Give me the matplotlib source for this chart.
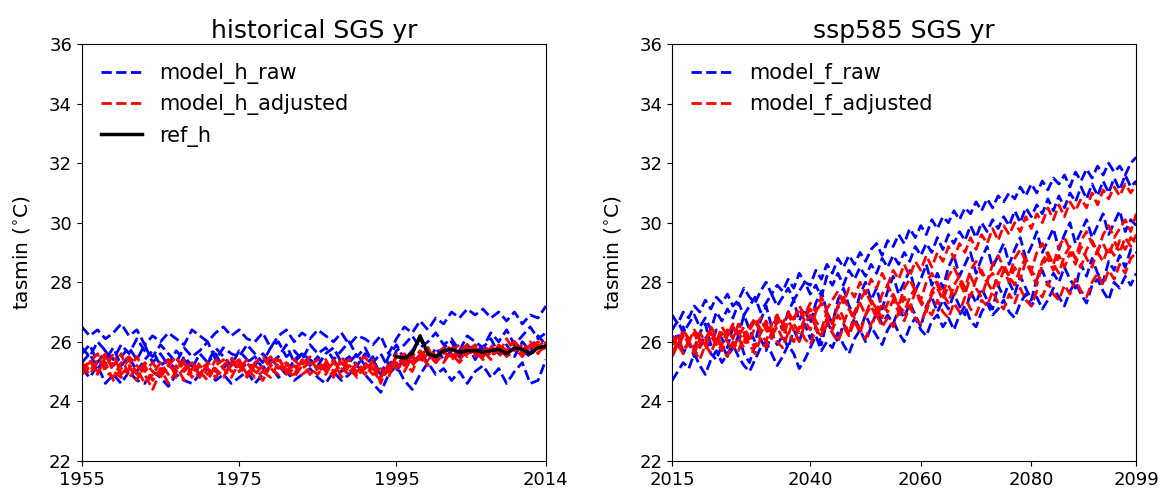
import numpy as np
import matplotlib
matplotlib.use("Agg")
import matplotlib.pyplot as plt

# historical years and series (tasmin, degC)
years_h = np.arange(1955, 2015)
years_f = np.arange(2015, 2100)
years_ref = np.arange(1995, 2015)

ref_h = [25.5, 25.45, 25.6, 26.2, 25.6, 25.5, 25.7, 25.75, 25.65, 25.7,
         25.7, 25.65, 25.7, 25.75, 25.6, 25.8, 25.75, 25.6, 25.8, 25.85]

raw_h1 = [26.5, 26.2, 26.4, 26.1, 26.3, 26.6, 26.2, 26.4, 25.9, 26.2,
          26.0, 26.3, 26.1, 25.9, 26.4, 26.2, 26.0, 26.3, 26.5, 26.2,
          26.4, 26.1, 26.0, 26.3, 25.8, 26.2, 26.4, 26.0, 26.3, 26.1,
          26.4, 26.2, 26.0, 26.3, 25.9, 26.2, 26.1, 25.9, 26.2, 25.6,
          26.1, 26.5, 26.3, 26.7, 26.4, 26.8, 26.6, 27.0, 26.8, 27.1,
          26.9, 27.1, 26.8, 27.0, 26.7, 27.0, 26.6, 26.9, 26.8, 27.2]
raw_h2 = [25.1, 24.8, 25.2, 24.6, 24.9, 24.6, 25.0, 24.7, 24.6, 25.0,
          24.8, 24.5, 24.9, 24.7, 24.6, 24.9, 25.1, 24.7, 24.9, 24.6,
          24.8, 25.0, 24.6, 24.9, 25.2, 24.8, 25.0, 24.7, 24.9, 25.1,
          24.8, 24.6, 25.0, 24.7, 24.9, 25.2, 24.9, 24.6, 24.3, 24.9,
          25.2, 24.7, 24.4, 24.9, 25.3, 24.9, 25.1, 24.7, 25.0, 24.6,
          25.0, 25.2, 24.8, 25.1, 24.6, 25.0, 25.3, 24.6, 24.7, 25.4]
raw_h3 = [25.8, 25.5, 26.0, 25.7, 25.4, 25.9, 25.6, 26.1, 25.7, 25.5,
          25.9, 25.6, 25.3, 25.8, 25.5, 25.7, 26.0, 25.4, 25.8, 25.6,
          25.5, 25.9, 25.6, 25.3, 25.8, 26.0, 25.5, 25.7, 25.4, 25.9,
          25.6, 25.8, 25.4, 25.7, 26.0, 25.5, 25.8, 25.3, 25.6, 25.1,
          25.7, 25.9, 26.2, 25.8, 26.0, 26.3, 25.9, 26.1, 25.7, 26.2,
          26.0, 25.8, 26.3, 26.0, 26.4, 25.9, 26.2, 26.5, 26.1, 26.3]
raw_h4 = [25.3, 25.6, 25.1, 25.4, 25.8, 25.2, 25.5, 25.0, 25.4, 25.7,
          25.2, 25.4, 25.0, 25.5, 25.2, 24.9, 25.3, 25.6, 25.1, 25.4,
          25.0, 25.3, 25.5, 25.1, 25.4, 25.2, 24.9, 25.4, 25.6, 25.2,
          25.5, 25.1, 25.4, 25.0, 25.3, 25.6, 25.2, 25.5, 24.8, 25.3,
          25.0, 25.5, 25.2, 25.6, 25.3, 25.8, 25.4, 25.7, 25.5, 25.9,
          25.6, 25.9, 25.5, 25.8, 25.6, 26.0, 25.7, 25.5, 25.9, 25.8]
raw_h5 = [25.6, 25.9, 25.3, 25.7, 25.2, 25.5, 25.8, 25.4, 25.9, 25.3,
          25.6, 25.2, 25.7, 25.4, 25.1, 25.6, 25.3, 25.8, 25.5, 25.2,
          25.7, 25.4, 25.2, 25.6, 25.3, 25.5, 25.9, 25.3, 25.6, 25.4,
          25.2, 25.6, 25.8, 25.3, 25.5, 25.2, 25.6, 25.4, 24.9, 25.5,
          25.9, 25.4, 25.7, 26.1, 25.6, 25.3, 25.8, 26.0, 25.5, 25.9,
          25.4, 25.8, 26.1, 25.6, 25.9, 25.5, 26.0, 25.7, 26.2, 25.9]

adj_h1 = [25.3, 25.0, 25.4, 25.1, 25.6, 24.9, 25.2, 24.7, 25.3, 25.0,
          24.8, 25.2, 25.0, 25.4, 24.9, 25.3, 25.1, 24.8, 25.2, 25.5,
          25.0, 25.3, 24.9, 25.2, 25.5, 25.1, 25.3, 24.9, 25.4, 25.2,
          25.4, 25.0, 25.3, 25.1, 24.9, 25.3, 25.5, 25.1, 24.8, 25.2,
          25.4, 25.6, 25.3, 25.7, 25.4, 25.6, 25.8, 25.5, 25.7, 25.9,
          25.6, 25.8, 25.5, 25.9, 25.7, 26.0, 25.6, 25.8, 26.0, 25.9]
adj_h2 = [25.0, 25.4, 24.9, 25.5, 25.2, 25.6, 24.8, 25.1, 24.6, 24.9,
          25.3, 24.9, 25.2, 24.7, 25.1, 24.8, 25.3, 25.0, 24.9, 25.2,
          25.4, 24.9, 25.2, 25.0, 24.8, 25.3, 25.0, 25.2, 24.9, 25.1,
          24.9, 25.3, 25.0, 25.2, 25.4, 24.9, 25.1, 25.3, 24.9, 25.0,
          25.5, 25.2, 25.6, 25.4, 25.8, 25.3, 25.6, 25.9, 25.4, 25.7,
          25.9, 25.5, 25.8, 25.6, 26.1, 25.7, 25.9, 25.6, 25.8, 26.1]
adj_h3 = [25.1, 25.3, 25.6, 25.0, 24.8, 25.3, 25.5, 25.2, 24.9, 24.4,
          25.0, 25.4, 24.8, 25.1, 25.3, 25.0, 24.7, 25.2, 25.4, 25.0,
          25.2, 24.8, 25.3, 25.5, 25.1, 24.9, 25.2, 25.4, 25.1, 25.3,
          25.1, 25.4, 24.9, 25.3, 25.0, 25.2, 24.9, 25.4, 24.6, 25.3,
          25.1, 25.4, 25.2, 25.5, 25.8, 25.5, 25.3, 25.7, 25.9, 25.5,
          25.8, 25.6, 25.9, 25.5, 25.8, 26.0, 25.7, 26.0, 25.7, 25.8]
adj_h4 = [24.9, 25.2, 25.0, 25.3, 24.7, 25.1, 25.4, 24.9, 25.2, 24.7,
          25.1, 24.6, 25.0, 25.3, 24.8, 25.2, 24.9, 25.4, 25.1, 24.8,
          25.3, 25.1, 24.8, 25.0, 25.3, 25.5, 24.9, 25.1, 25.3, 24.9,
          25.2, 24.9, 25.4, 24.8, 25.2, 25.0, 25.3, 25.0, 24.7, 25.1,
          25.3, 25.0, 25.5, 25.3, 25.6, 25.4, 25.7, 25.4, 25.6, 25.8,
          25.5, 25.7, 25.4, 25.8, 25.5, 25.7, 25.9, 25.6, 25.9, 25.7]
adj_h5 = [25.2, 24.9, 25.3, 25.6, 25.0, 24.8, 25.1, 25.5, 25.0, 25.3,
          24.9, 25.2, 25.5, 25.0, 25.3, 24.9, 25.2, 25.1, 24.8, 25.3,
          25.1, 25.4, 25.0, 24.7, 25.2, 25.4, 25.1, 24.8, 25.2, 25.5,
          25.0, 25.2, 24.8, 25.5, 25.1, 24.8, 25.2, 24.9, 25.1, 24.8,
          25.6, 25.3, 25.0, 25.6, 25.2, 25.5, 25.4, 25.6, 25.3, 25.6,
          25.7, 25.4, 25.7, 25.9, 25.6, 25.8, 25.5, 25.9, 25.6, 26.0]

# future (ssp585)
raw_f1 = [26.9, 26.6, 27.0, 26.8, 27.2, 27.0, 27.4, 27.1, 27.5, 27.3,
          27.6, 27.2, 27.4, 27.8, 27.5, 27.3, 27.7, 28.0, 27.6, 27.9,
          27.7, 28.1, 27.8, 28.3, 28.0, 27.9, 28.4, 28.1, 28.6, 28.3,
          28.8, 28.5, 28.9, 28.6, 29.0, 28.7, 29.1, 29.3, 28.9, 29.4,
          29.2, 29.6, 29.3, 29.8, 29.5, 29.9, 29.6, 30.1, 29.8, 30.2,
          30.0, 30.4, 30.1, 30.5, 30.3, 30.7, 30.4, 30.8, 30.5, 30.9,
          30.7, 31.0, 30.8, 31.2, 30.9, 31.3, 31.0, 31.4, 31.1, 31.5,
          31.3, 31.6, 31.2, 31.7, 31.4, 31.8, 31.5, 31.9, 31.6, 32.0,
          31.7, 31.9, 31.6, 32.0, 32.2]
raw_f2 = [26.4, 26.7, 26.3, 26.6, 26.9, 26.5, 26.8, 26.4, 27.0, 26.7,
          27.1, 26.8, 27.3, 26.9, 27.2, 27.5, 27.0, 27.3, 27.6, 27.2,
          27.5, 27.8, 27.4, 27.7, 28.0, 27.6, 27.9, 27.5, 28.2, 27.9,
          28.3, 27.9, 28.4, 28.1, 28.5, 28.2, 28.6, 28.3, 28.8, 28.5,
          28.9, 28.6, 29.0, 28.7, 29.2, 28.9, 29.3, 29.0, 29.5, 29.1,
          29.6, 29.3, 29.7, 29.4, 29.9, 29.5, 30.0, 29.7, 30.1, 29.8,
          30.2, 29.9, 30.4, 30.0, 30.5, 30.2, 30.6, 30.3, 30.8, 30.4,
          30.9, 30.5, 31.0, 30.7, 31.2, 30.8, 31.3, 30.9, 31.4, 31.0,
          31.5, 31.1, 31.6, 31.2, 31.4]
raw_f3 = [26.2, 25.8, 26.5, 26.0, 25.7, 26.3, 26.6, 25.9, 26.4, 26.1,
          25.8, 26.5, 26.2, 26.9, 26.4, 26.0, 26.7, 27.2, 26.5, 26.8,
          26.4, 27.0, 27.4, 26.7, 27.1, 26.6, 27.3, 27.7, 27.0, 26.6,
          27.4, 27.8, 27.2, 26.9, 27.6, 28.0, 27.4, 27.8, 27.1, 27.7,
          28.2, 27.6, 28.0, 28.4, 27.7, 28.1, 28.6, 27.9, 28.3, 27.8,
          28.5, 28.9, 28.2, 28.6, 29.0, 28.3, 28.8, 29.2, 28.5, 28.9,
          29.3, 28.6, 29.1, 29.5, 28.8, 29.2, 29.7, 29.0, 29.4, 29.8,
          29.1, 29.6, 30.0, 29.3, 29.7, 30.1, 29.5, 29.9, 30.3, 29.6,
          30.0, 30.4, 29.7, 30.1, 29.9]
raw_f4 = [25.9, 26.3, 25.6, 26.0, 25.5, 25.9, 26.2, 25.6, 25.4, 25.9,
          25.5, 25.8, 26.2, 25.6, 25.3, 25.9, 26.1, 25.7, 26.3, 25.9,
          26.2, 25.8, 26.4, 26.0, 26.6, 26.1, 26.5, 25.9, 26.7, 26.3,
          26.0, 26.6, 26.3, 26.8, 26.4, 26.9, 26.5, 27.0, 26.6, 26.9,
          26.6, 27.1, 26.8, 27.3, 26.9, 26.5, 27.2, 27.5, 27.0, 27.4,
          27.1, 27.6, 27.2, 26.9, 27.7, 27.3, 27.8, 27.4, 27.1, 27.9,
          27.5, 28.0, 27.6, 28.2, 27.8, 27.4, 28.1, 28.4, 27.9, 28.3,
          28.0, 28.5, 28.1, 27.8, 28.6, 28.2, 28.8, 28.3, 28.0, 28.7,
          28.4, 28.9, 28.5, 29.1, 29.0]
raw_f5 = [24.7, 25.0, 25.3, 25.1, 25.6, 25.2, 24.9, 25.4, 25.7, 25.3,
          25.6, 25.9, 25.5, 25.2, 25.0, 25.4, 25.8, 26.0, 25.6, 25.2,
          25.5, 25.9, 25.6, 25.1, 25.4, 25.8, 26.2, 25.7, 26.0, 25.8,
          26.3, 25.9, 25.6, 26.1, 26.4, 26.0, 26.5, 26.2, 25.9, 26.4,
          26.7, 26.3, 26.0, 26.5, 26.8, 26.4, 26.2, 26.7, 26.9, 26.5,
          26.8, 26.4, 26.9, 27.2, 26.7, 26.5, 27.0, 27.3, 26.9, 27.1,
          27.4, 27.0, 26.8, 27.3, 27.6, 27.2, 27.5, 27.1, 27.4, 27.8,
          27.5, 27.2, 27.7, 28.0, 27.6, 27.3, 27.9, 28.1, 27.7, 27.4,
          28.0, 27.8, 28.2, 27.9, 28.3]

adj_f1 = [26.1, 25.8, 26.2, 26.0, 26.4, 26.1, 25.9, 26.3, 26.0, 26.5,
          26.2, 26.6, 26.3, 26.0, 26.5, 26.8, 26.4, 26.7, 26.3, 26.9,
          26.6, 27.0, 26.7, 27.2, 26.9, 27.3, 27.0, 27.5, 27.1, 27.4,
          27.7, 27.3, 27.8, 27.5, 28.0, 27.6, 28.1, 27.8, 28.3, 27.9,
          28.4, 28.1, 28.6, 28.2, 28.7, 28.4, 28.9, 28.5, 29.0, 28.7,
          29.2, 28.8, 29.3, 29.0, 29.5, 29.1, 29.6, 29.3, 29.8, 29.4,
          29.9, 29.6, 30.0, 29.7, 30.2, 29.8, 30.3, 30.0, 30.5, 30.1,
          30.6, 30.2, 30.7, 30.4, 30.8, 30.5, 31.0, 30.6, 31.1, 30.8,
          31.2, 30.9, 31.3, 31.0, 31.3]
adj_f2 = [25.9, 26.2, 25.7, 26.0, 26.3, 25.8, 26.1, 26.4, 26.0, 25.7,
          26.2, 26.5, 26.1, 25.8, 26.4, 26.7, 26.3, 26.0, 26.6, 26.9,
          26.5, 26.2, 26.8, 27.1, 26.7, 26.4, 27.0, 27.3, 26.9, 26.6,
          27.2, 27.5, 27.1, 26.8, 27.4, 27.7, 27.3, 27.0, 27.6, 27.9,
          27.5, 27.2, 27.8, 28.1, 27.7, 27.4, 28.0, 28.3, 27.9, 27.6,
          28.2, 28.5, 28.1, 27.8, 28.4, 28.7, 28.3, 28.0, 28.6, 28.9,
          28.5, 28.2, 28.8, 29.1, 28.7, 28.4, 29.0, 29.3, 28.9, 28.6,
          29.2, 29.5, 29.1, 28.8, 29.4, 29.7, 29.3, 29.0, 29.6, 29.9,
          29.5, 29.8, 30.1, 29.7, 30.3]
adj_f3 = [25.6, 26.0, 26.3, 25.9, 25.6, 26.1, 25.8, 26.2, 25.9, 26.3,
          26.0, 25.7, 26.2, 26.5, 26.1, 25.8, 26.3, 26.6, 26.2, 26.5,
          26.1, 26.7, 26.4, 26.0, 26.6, 26.9, 26.5, 26.2, 26.8, 26.4,
          26.9, 26.6, 27.1, 26.7, 26.3, 26.9, 27.2, 26.8, 27.3, 27.0,
          27.4, 27.0, 27.5, 27.1, 27.7, 27.3, 27.0, 27.6, 27.8, 27.4,
          27.9, 27.5, 28.0, 27.6, 28.2, 27.8, 27.5, 28.1, 28.3, 27.9,
          28.4, 28.0, 28.5, 28.1, 28.7, 28.3, 27.9, 28.6, 28.8, 28.4,
          28.9, 28.5, 29.0, 28.6, 29.2, 28.8, 28.5, 29.1, 29.3, 28.9,
          29.4, 29.0, 29.5, 29.2, 29.6]
adj_f4 = [25.5, 25.9, 25.6, 26.0, 25.7, 25.4, 25.9, 25.6, 26.1, 25.8,
          25.5, 26.0, 25.7, 26.2, 25.9, 25.6, 26.1, 25.8, 26.3, 26.0,
          25.8, 26.3, 26.0, 26.5, 26.1, 25.9, 26.4, 26.2, 26.6, 26.3,
          26.0, 26.5, 26.2, 26.7, 26.4, 26.1, 26.6, 26.9, 26.5, 26.8,
          26.5, 27.0, 26.7, 27.2, 26.8, 26.6, 27.1, 26.9, 27.4, 27.0,
          26.8, 27.3, 27.0, 27.5, 27.1, 26.9, 27.4, 27.2, 27.7, 27.3,
          27.1, 27.6, 27.3, 27.8, 27.4, 27.2, 27.7, 27.5, 28.0, 27.6,
          27.4, 27.9, 27.6, 28.1, 27.7, 27.5, 28.0, 28.3, 27.9, 28.4,
          28.1, 28.6, 28.3, 28.8, 29.0]
adj_f5 = [26.2, 25.9, 26.4, 26.1, 25.8, 26.3, 26.0, 26.5, 26.2, 25.9,
          26.4, 26.1, 26.6, 26.3, 26.0, 26.5, 26.8, 26.4, 26.1, 26.7,
          26.4, 26.9, 26.6, 26.3, 26.8, 27.1, 26.7, 26.4, 27.0, 26.6,
          27.2, 26.8, 26.2, 27.0, 27.3, 26.9, 27.4, 27.1, 26.8, 27.3,
          27.6, 27.2, 27.0, 27.5, 27.8, 27.4, 27.1, 27.7, 28.0, 27.6,
          27.3, 27.9, 28.2, 27.8, 27.5, 28.1, 28.4, 28.0, 27.7, 28.3,
          28.6, 28.2, 27.9, 28.5, 28.8, 28.4, 28.1, 28.7, 29.0, 28.6,
          28.3, 28.9, 29.2, 28.8, 28.5, 29.1, 29.4, 29.0, 28.7, 29.2,
          28.9, 29.4, 29.1, 29.5, 29.3]

raw_h = [raw_h1, raw_h2, raw_h3, raw_h4, raw_h5]
adj_h = [adj_h1, adj_h2, adj_h3, adj_h4, adj_h5]
raw_f = [raw_f1, raw_f2, raw_f3, raw_f4, raw_f5]
adj_f = [adj_f1, adj_f2, adj_f3, adj_f4, adj_f5]

lw = 2.0

fig = plt.figure(figsize=(11.69, 4.95), dpi=100)
ax1 = fig.add_axes([0.070, 0.069, 0.397, 0.842])
ax2 = fig.add_axes([0.575, 0.069, 0.397, 0.842])

# left: historical
for i, s in enumerate(raw_h):
    ax1.plot(years_h, s, '--', color='blue', lw=lw, label='model_h_raw' if i == 0 else None)
for i, s in enumerate(adj_h):
    ax1.plot(years_h, s, '--', color='red', lw=lw, label='model_h_adjusted' if i == 0 else None)
ax1.plot(years_ref, ref_h, '-', color='black', lw=2.5, label='ref_h')
ax1.set_xlim(1955, 2014)
ax1.set_xticks([1955, 1975, 1995, 2014])
ax1.set_title('historical SGS yr', fontsize=18, pad=4)

# right: ssp585
for i, s in enumerate(raw_f):
    ax2.plot(years_f, s, '--', color='blue', lw=lw, label='model_f_raw' if i == 0 else None)
for i, s in enumerate(adj_f):
    ax2.plot(years_f, s, '--', color='red', lw=lw, label='model_f_adjusted' if i == 0 else None)
ax2.set_xlim(2015, 2099)
ax2.set_xticks([2015, 2040, 2060, 2080, 2099])
ax2.set_title('ssp585 SGS yr', fontsize=18, pad=4)

for ax in (ax1, ax2):
    ax.set_ylim(22, 36)
    ax.set_yticks(range(22, 37, 2))
    ax.set_ylabel('tasmin ($^{\\circ}$C)', fontsize=14.5, labelpad=12)
    ax.tick_params(labelsize=13)
    ax.legend(loc='upper left', frameon=False, fontsize=15)

plt.savefig('out.png', dpi=100)
